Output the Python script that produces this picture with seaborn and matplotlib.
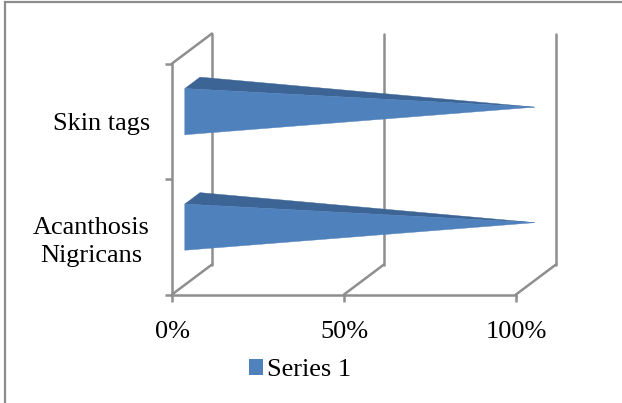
import matplotlib
matplotlib.use('Agg')
import matplotlib.pyplot as plt
from matplotlib.lines import Line2D
from matplotlib.patches import Patch
import pandas as pd
import seaborn as sns

categories = ['Skin tags', 'Acanthosis\nNigricans']
values = [100, 100]
xticks = [0, 50, 100]
series_name = 'Series 1'

sns.set_theme(style='white')
plt.rcParams['font.family'] = ['Liberation Serif', 'DejaVu Serif']

W, H = 622, 403
GREY = '#8e8e8e'
FRONT = '#4f81bd'
TOP = '#3c6494'
LW = 1.8

df = pd.DataFrame({'category': categories, 'value': values})

fig = plt.figure(figsize=(W / 100, H / 100), dpi=100)
# front plane of the fake 3d box
ax = fig.add_axes([172 / W, 1 - 294.5 / H, 344 / W, 231 / H])
sns.barplot(data=df, x='value', y='category', order=categories, width=0.4,
            color=FRONT, ax=ax)
ax.set_xlim(0, 100)
ax.set_ylim(1.5, -0.5)
ax.patch.set_alpha(0)

# depth of the box in data units
dx = 40 / 344 * 100
dy = -30 / 231 * 2

def proj(x, y, d):
    return x + dx * d, y + dy * d

# walls and floor lines
for t in xticks:
    x0, y0 = proj(t, 1.5, 1)
    ax.plot([t, x0], [1.5, y0], color=GREY, lw=LW, clip_on=False, zorder=1)
    x1, y1 = proj(t, -0.5, 1)
    ax.plot([x0, x1], [y0, y1], color=GREY, lw=LW, clip_on=False, zorder=1)
x1, y1 = proj(0, -0.5, 1)
ax.plot([0, x1], [-0.5, y1], color=GREY, lw=LW, clip_on=False, zorder=1)

# turn each bar into a cone-like wedge
for bar in list(ax.patches):
    val = bar.get_width()
    y_top = bar.get_y()
    y_bot = y_top + bar.get_height()
    bar.set_visible(False)
    front_top = proj(0, y_top, 0.32)
    front_bot = proj(0, y_bot, 0.32)
    back_top = proj(0, y_top, 0.70)
    tip = proj(val, (y_top + y_bot) / 2, 0.47)
    ax.fill(*zip(front_top, back_top, tip), facecolor=TOP, edgecolor=TOP, lw=0.3, clip_on=False, zorder=3)
    ax.fill(*zip(front_top, front_bot, tip), facecolor=FRONT, edgecolor=FRONT, lw=0.3, clip_on=False, zorder=4)

ax.set_xlabel('')
ax.set_ylabel('')
ax.set_xticks(xticks)
ax.set_xticklabels([f'{t}%' for t in xticks], fontsize=18.9, color='black')
ax.set_yticks([0, 1])
ax.set_yticklabels(categories, fontsize=18.9, color='black', multialignment='center', linespacing=1.35)
ax.set_yticks([-0.5, 0.5, 1.5], minor=True)
ax.tick_params(axis='y', which='major', length=0, pad=16)
ax.tick_params(axis='y', which='minor', length=5, width=LW, color=GREY, left=True)
ax.tick_params(axis='x', length=5, width=LW, color=GREY, bottom=True, pad=14)
sns.despine(ax=ax, top=True, right=True)
for side in ['left', 'bottom']:
    ax.spines[side].set_color(GREY)
    ax.spines[side].set_linewidth(LW)

handle = Patch(facecolor=FRONT, edgecolor='none', label=series_name)
fig.legend(handles=[handle], loc='center', bbox_to_anchor=(300 / W, 1 - 370 / H),
           frameon=False, fontsize=18.9, handlelength=0.55, handleheight=0.55,
           handletextpad=0.15, labelcolor='black')

# outer frame, only top and left show in the reference
fig.add_artist(Line2D([5 / W, 5 / W, 1], [0, 1 - 2 / H, 1 - 2 / H], transform=fig.transFigure,
                      color='#8c8c8c', lw=1.6, solid_joinstyle='miter'))

fig.savefig('out.png', dpi=100)
